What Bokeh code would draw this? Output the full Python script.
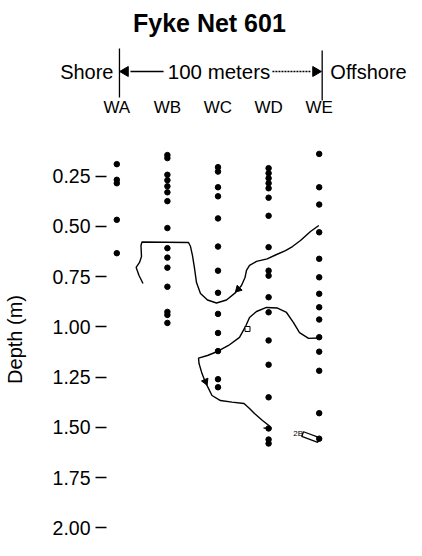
from bokeh.plotting import figure
from bokeh.models import Range1d, FixedTicker, NumeralTickFormatter, ColumnDataSource
from bokeh.layouts import column
from bokeh.core.properties import value
from bokeh.embed import file_html
from bokeh.resources import INLINE

FONT = value("Liberation Sans")

# ---------------- data ----------------
stations = ["WA", "WB", "WC", "WD", "WE"]
station_pos = [0, 1, 2, 3, 4]

wa_depth = [0.19, 0.268, 0.285, 0.467, 0.633]
wb_depth = [0.145, 0.16, 0.243, 0.27, 0.30, 0.33, 0.374, 0.508, 0.608, 0.655,
            0.705, 0.80, 0.925, 0.94, 0.98]
wc_depth = [0.205, 0.227, 0.305, 0.35, 0.46, 0.60, 0.72, 0.83, 0.935, 1.03,
            1.12, 1.26, 1.30]
wd_depth = [0.21, 0.235, 0.26, 0.285, 0.31, 0.357, 0.447, 0.603, 0.72, 0.745,
            0.852, 0.927, 1.067, 1.188, 1.35, 1.505, 1.56, 1.58]
we_depth = [0.139, 0.305, 0.391, 0.529, 0.661, 0.753, 0.835, 0.902, 0.963,
            1.051, 1.123, 1.218, 1.429, 1.556]

tick_values = [0.25, 0.50, 0.75, 1.00, 1.25, 1.50, 1.75, 2.00]

# fish track 1 (station position, depth)
track1_pos = [3.992, 3.828, 3.630, 3.472, 3.334, 3.136, 2.972, 2.761, 2.623,
              2.563, 2.534, 2.464, 2.346, 2.168, 1.970, 1.792, 1.654, 1.575,
              1.536, 1.496, 1.457, 1.417, 0.498, 0.478, 0.488, 0.449, 0.383,
              0.439, 0.518]
track1_depth = [0.495, 0.525, 0.570, 0.600, 0.620, 0.642, 0.661, 0.674, 0.694,
                0.719, 0.754, 0.794, 0.829, 0.866, 0.881, 0.866, 0.834, 0.779,
                0.709, 0.645, 0.600, 0.580, 0.577, 0.595, 0.650, 0.679, 0.704,
                0.744, 0.784]

# fish track 2
track2_pos = [3.986, 3.789, 3.611, 3.492, 3.354, 3.176, 2.958, 2.761, 2.623,
              2.553, 2.425, 2.208, 1.990, 1.792, 1.615, 1.625, 1.684, 1.753,
              1.881, 2.049, 2.277, 2.514, 2.623, 2.721, 2.879, 3.018]
track2_depth = [1.055, 1.057, 1.028, 0.978, 0.928, 0.906, 0.903, 0.923, 0.953,
                0.993, 1.052, 1.092, 1.122, 1.142, 1.155, 1.182, 1.232, 1.276,
                1.341, 1.366, 1.374, 1.381, 1.406, 1.431, 1.465, 1.493]

# direction markers along tracks
arrow_pos = [2.40, 1.753]
arrow_depth = [0.812, 1.271]
arrow_angle = [2.36, 3.55]

tag_pos = [3.83]
tag_depth = [1.5475]

# ---------------- main chart ----------------
xs, ys = [], []
for pos, depths in zip(station_pos, [wa_depth, wb_depth, wc_depth, wd_depth, we_depth]):
    xs += [pos] * len(depths)
    ys += depths
dots = ColumnDataSource(dict(x=xs, y=ys))

p = figure(width=420, height=418,
           x_range=Range1d(-0.2036, 6.002), y_range=Range1d(2.1022, 0.0226),
           output_backend="svg", toolbar_location=None,
           x_axis_location=None, y_axis_location="left",
           min_border_left=106, min_border_right=0, min_border_top=0, min_border_bottom=0)
p.frame_align = False
p.grid.visible = False
p.outline_line_color = None
p.background_fill_color = "white"

ax = p.yaxis[0]
ax.ticker = FixedTicker(ticks=tick_values)
ax.formatter = NumeralTickFormatter(format="0.00")
ax.axis_line_color = None
ax.major_tick_out = 11
ax.major_tick_in = 0
ax.minor_tick_line_color = None
ax.major_tick_line_color = "black"
ax.major_tick_line_width = 1.5
ax.major_label_text_font = "Liberation Sans"
ax.major_label_text_font_size = "19.5px"
ax.major_label_text_color = "black"
ax.major_label_standoff = 5
ax.axis_label = "Depth (m)"
ax.axis_label_text_font = "Liberation Sans"
ax.axis_label_text_font_size = "20px"
ax.axis_label_text_font_style = "normal"
ax.axis_label_text_color = "black"
ax.axis_label_standoff = 24

p.line(track1_pos, track1_depth, line_color="black", line_width=1.4)
p.line(track2_pos, track2_depth, line_color="black", line_width=1.4)
p.segment(x0=[2.90], y0=[1.503], x1=[3.06], y1=[1.503], line_color="black", line_width=1.4)
p.scatter(x=arrow_pos, y=arrow_depth, angle=arrow_angle, marker="triangle",
          size=7, color="black")
p.scatter(x=[2.583], y=[1.010], marker="square", size=5, fill_color="white",
          line_color="black", line_width=1)
p.rect(x=tag_pos, y=tag_depth, width=17, height=5, width_units="screen",
       height_units="screen", angle=-0.35, fill_color="white",
       line_color="black", line_width=1.3)
p.text(x=[3.585], y=[1.53], text=["2B"], text_font=FONT, text_font_size="8px",
       text_align="center", text_baseline="middle", text_color="black")
p.scatter("x", "y", source=dots, size=5.5, color="black")

# ---------------- header ----------------
h = figure(width=420, height=130,
           x_range=Range1d(-2.298, 6.002), y_range=Range1d(130, 0),
           output_backend="svg", toolbar_location=None,
           x_axis_location=None, y_axis_location=None, min_border=0)
h.frame_align = False
h.grid.visible = False
h.outline_line_color = None

h.text(x=[1.83], y=[22], text=["Fyke Net 601"], text_font=FONT,
       text_font_style="bold", text_font_size="25px",
       text_align="center", text_baseline="middle", text_color="black")
h.text(x=[-0.065], y=[71], text=["Shore"], text_font=FONT, text_font_size="20px",
       text_align="right", text_baseline="middle", text_color="black")
h.text(x=[2.02], y=[71], text=["100 meters"], text_font=FONT, text_font_size="20.5px",
       text_align="center", text_baseline="middle", text_color="black")
h.text(x=[4.22], y=[71], text=["Offshore"], text_font=FONT, text_font_size="20px",
       text_align="left", text_baseline="middle", text_color="black")
h.text(x=station_pos, y=[107] * 5, text=stations, text_font=FONT, text_font_size="17px",
       text_align="center", text_baseline="middle", text_color="black")
h.segment(x0=[0.053, 4.059], y0=[48, 50], x1=[0.053, 4.059], y1=[97, 100],
          line_color="black", line_width=1.3)
h.segment(x0=[0.27], y0=[71], x1=[0.925], y1=[71], line_color="black", line_width=1.3)
h.segment(x0=[3.076], y0=[71], x1=[3.826], y1=[71], line_color="black",
          line_width=1.3, line_dash="2 1")
h.scatter(x=[0.17, 3.93], y=[71, 71], angle=[1.5708, -1.5708], marker="triangle",
          size=10, color="black")

layout = column(h, p)
open("out.html", "w").write(file_html(layout, INLINE))
